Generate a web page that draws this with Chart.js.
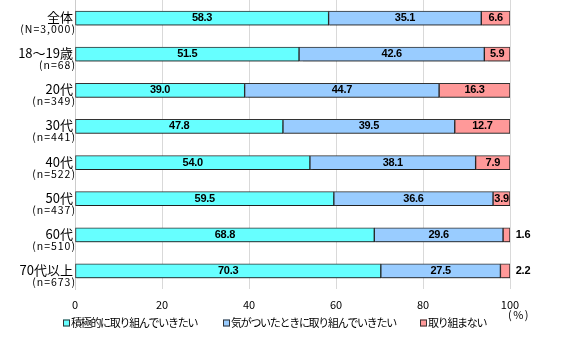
<!DOCTYPE html>
<html>
<head>
<meta charset="utf-8">
<script src="https://cdn.jsdelivr.net/npm/chart.js@4"></script>
<style>
  html, body { margin: 0; padding: 0; background: #fff; }
  #wrap { width: 566px; height: 347px; }
</style>
</head>
<body>
<div id="wrap"><canvas id="chart" width="566" height="347"></canvas></div>
<script>
var categories = ['全体', '18～19歳', '20代', '30代', '40代', '50代', '60代', '70代以上'];
var sampleSizes = ['(N=3,000)', '(n=68)', '(n=349)', '(n=441)', '(n=522)', '(n=437)', '(n=510)', '(n=673)'];
var seriesNames = ['積極的に取り組んでいきたい', '気がついたときに取り組んでいきたい', '取り組まない'];
var activeValues = [58.3, 51.5, 39.0, 47.8, 54.0, 59.5, 68.8, 70.3];
var whenNoticedValues = [35.1, 42.6, 44.7, 39.5, 38.1, 36.6, 29.6, 27.5];
var notValues = [6.6, 5.9, 16.3, 12.7, 7.9, 3.9, 1.6, 2.2];
var xTicks = [0, 20, 40, 60, 80, 100];
var colors = ['#66FFFF', '#99CCFF', '#FF9999'];

var FONT = '"Noto Sans CJK JP", "Noto Sans", sans-serif';
var NUM_FONT = '"Liberation Sans", sans-serif';

// soft shadow under the bars, like the original
var barShadow = {
    id: 'barShadow',
    beforeDatasetsDraw: function (chart) {
        var ctx = chart.ctx;
        ctx.save();
        ctx.shadowColor = 'rgba(0,0,0,0.35)';
        ctx.shadowOffsetX = 1;
        ctx.shadowOffsetY = 2;
        ctx.shadowBlur = 1;
    },
    afterDatasetsDraw: function (chart) {
        chart.ctx.restore();
    }
};

// two-line category labels: name, then sample size in a smaller font
var catLabels = {
    id: 'catLabels',
    afterDraw: function (chart) {
        var ctx = chart.ctx;
        var y = chart.scales.y;
        ctx.save();
        ctx.fillStyle = '#000';
        ctx.textAlign = 'right';
        ctx.textBaseline = 'middle';
        categories.forEach(function (c, i) {
            var py = y.getPixelForTick(i);
            ctx.font = '13px ' + FONT;
            ctx.letterSpacing = '0px';
            ctx.fillText(c, 73, py - 1);
            ctx.font = '10.5px ' + FONT;
            ctx.letterSpacing = '1px';
            ctx.fillText(sampleSizes[i], 76, py + 11);
        });
        ctx.restore();
    }
};

// value labels inside the bars (small ones go outside on the right)
var valueLabels = {
    id: 'valueLabels',
    afterDraw: function (chart) {
        var ctx = chart.ctx;
        ctx.save();
        ctx.font = 'bold 11px ' + NUM_FONT;
        ctx.letterSpacing = '-0.3px';
        ctx.fillStyle = '#000';
        ctx.textBaseline = 'middle';
        ctx.textAlign = 'center';
        chart.data.datasets.forEach(function (ds, i) {
            var meta = chart.getDatasetMeta(i);
            meta.data.forEach(function (bar, j) {
                var v = ds.data[j];
                var txt = v.toFixed(1);
                if (v < 3) {
                    ctx.fillText(txt, chart.chartArea.right + 13, bar.y);
                } else {
                    ctx.fillText(txt, (bar.x + bar.base) / 2, bar.y);
                }
            });
        });
        // (%) unit under the 100 tick
        ctx.font = '11px ' + FONT;
        ctx.letterSpacing = '1.5px';
        ctx.fillText('(%)', chart.chartArea.right + 9, 315);
        ctx.restore();
    }
};

// legend drawn by hand so the spacing matches the original
var legendRow = {
    id: 'legendRow',
    afterDraw: function (chart) {
        var ctx = chart.ctx;
        var xs = [63, 223, 420];
        var ly = 323;
        ctx.save();
        ctx.font = '11px ' + FONT;
        ctx.letterSpacing = '-1.3px';
        ctx.textBaseline = 'middle';
        ctx.textAlign = 'left';
        seriesNames.forEach(function (name, i) {
            ctx.fillStyle = colors[i];
            ctx.fillRect(xs[i], ly - 3.5, 7, 7);
            ctx.strokeStyle = '#333';
            ctx.lineWidth = 1;
            ctx.strokeRect(xs[i] + 0.5, ly - 3, 6, 6);
            ctx.fillStyle = '#000';
            ctx.fillText(name, xs[i] + 8, ly);
        });
        ctx.restore();
    }
};

var common = {
    borderColor: '#333333',
    borderWidth: 1,
    borderSkipped: false,
    barThickness: 14
};

new Chart(document.getElementById('chart').getContext('2d'), {
    type: 'bar',
    data: {
        labels: categories,
        datasets: [
            Object.assign({ label: seriesNames[0], data: activeValues, backgroundColor: colors[0] }, common),
            Object.assign({ label: seriesNames[1], data: whenNoticedValues, backgroundColor: colors[1] }, common),
            Object.assign({ label: seriesNames[2], data: notValues, backgroundColor: colors[2] }, common)
        ]
    },
    options: {
        indexAxis: 'y',
        responsive: false,
        animation: false,
        layout: { padding: { top: 0, right: 56, left: 0, bottom: 38 } },
        scales: {
            x: {
                stacked: true,
                min: 0,
                max: 100,
                afterBuildTicks: function (axis) {
                    axis.ticks = xTicks.map(function (v) { return { value: v }; });
                },
                afterFit: function (axis) { axis.height = 20; },
                grid: { color: '#d9d9d9', drawTicks: false },
                border: { display: false },
                ticks: { font: { size: 11, family: FONT }, color: '#000', padding: 9 }
            },
            y: {
                stacked: true,
                afterFit: function (axis) { axis.width = 75; },
                grid: { display: false },
                border: { color: '#cccccc' },
                ticks: { display: false }
            }
        },
        plugins: {
            legend: { display: false },
            tooltip: { enabled: false }
        }
    },
    plugins: [barShadow, catLabels, valueLabels, legendRow]
});
</script>
</body>
</html>
